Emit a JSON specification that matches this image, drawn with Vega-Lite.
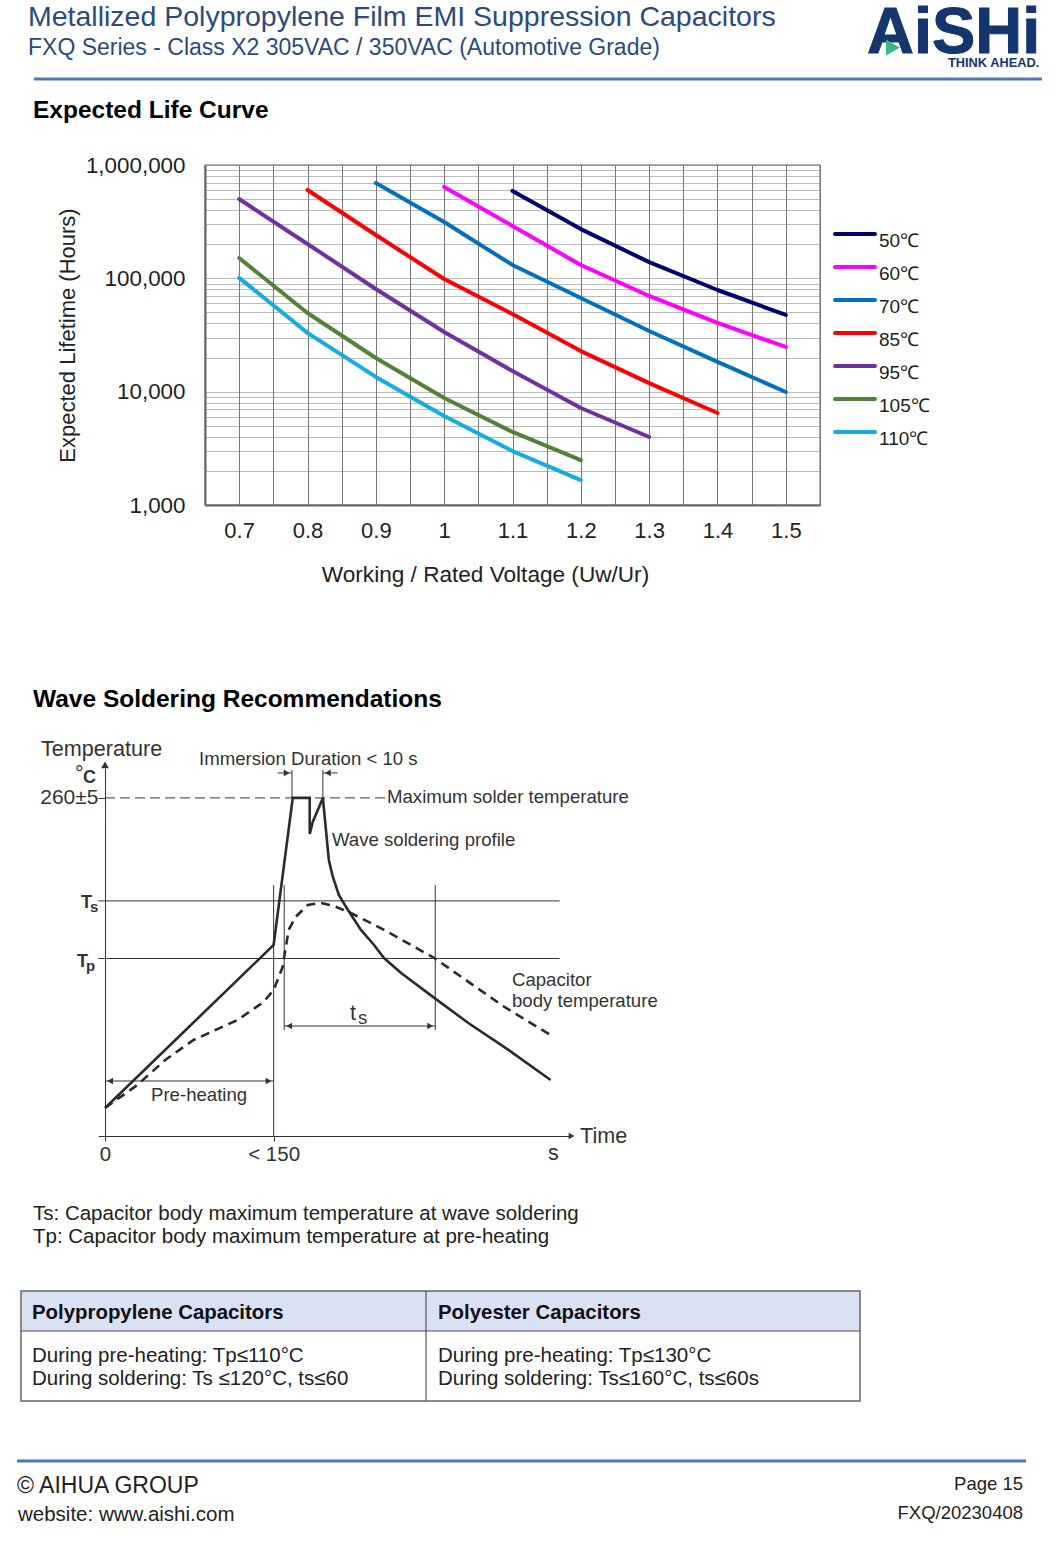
{
"$schema":"https://vega.github.io/schema/vega-lite/v6.json",
"width":615,"height":340,
"autosize":{"type":"none"},
"padding":{"left":205,"top":165,"right":240,"bottom":1058},
"background":"white",
"config":{"font":"Liberation Sans","view":{"stroke":"#999999","strokeWidth":1.5}},
"datasets":{
"life":[
{"v":1.1,"h":590000,"s":"50℃"},{"v":1.2,"h":272000,"s":"50℃"},{"v":1.3,"h":139000,"s":"50℃"},{"v":1.4,"h":78900,"s":"50℃"},{"v":1.5,"h":47500,"s":"50℃"},
{"v":1.0,"h":640000,"s":"60℃"},{"v":1.1,"h":290000,"s":"60℃"},{"v":1.2,"h":131000,"s":"60℃"},{"v":1.3,"h":69900,"s":"60℃"},{"v":1.4,"h":40400,"s":"60℃"},{"v":1.5,"h":24800,"s":"60℃"},
{"v":0.9,"h":694000,"s":"70℃"},{"v":1.0,"h":314000,"s":"70℃"},{"v":1.1,"h":131000,"s":"70℃"},{"v":1.2,"h":67100,"s":"70℃"},{"v":1.3,"h":34300,"s":"70℃"},{"v":1.4,"h":18300,"s":"70℃"},{"v":1.5,"h":9930,"s":"70℃"},
{"v":0.8,"h":602000,"s":"85℃"},{"v":0.9,"h":241000,"s":"85℃"},{"v":1.0,"h":98700,"s":"85℃"},{"v":1.1,"h":48500,"s":"85℃"},{"v":1.2,"h":22800,"s":"85℃"},{"v":1.3,"h":11900,"s":"85℃"},{"v":1.4,"h":6480,"s":"85℃"},
{"v":0.7,"h":501000,"s":"95℃"},{"v":0.8,"h":201000,"s":"95℃"},{"v":0.9,"h":80500,"s":"95℃"},{"v":1.0,"h":33600,"s":"95℃"},{"v":1.1,"h":15200,"s":"95℃"},{"v":1.2,"h":7180,"s":"95℃"},{"v":1.3,"h":3980,"s":"95℃"},
{"v":0.7,"h":151000,"s":"105℃"},{"v":0.8,"h":49400,"s":"105℃"},{"v":0.9,"h":19800,"s":"105℃"},{"v":1.0,"h":8790,"s":"105℃"},{"v":1.1,"h":4410,"s":"105℃"},{"v":1.2,"h":2490,"s":"105℃"},
{"v":0.7,"h":101000,"s":"110℃"},{"v":0.8,"h":33000,"s":"110℃"},{"v":0.9,"h":13500,"s":"110℃"},{"v":1.0,"h":6100,"s":"110℃"},{"v":1.1,"h":2990,"s":"110℃"},{"v":1.2,"h":1660,"s":"110℃"}
],
"profile":[
{"t":0,"temp":21.5},{"t":150,"temp":146.9},{"t":167,"temp":260},{"t":182.1,"temp":260},{"t":182.1,"temp":232.3},{"t":184.8,"temp":241.5},{"t":193.8,"temp":260},{"t":199.1,"temp":212.3},{"t":202.7,"temp":199.2},{"t":208,"temp":185.4},{"t":216.1,"temp":173.8},{"t":227.7,"temp":158.5},{"t":239.3,"temp":146.9},{"t":248.2,"temp":136.9},{"t":263.4,"temp":125.4},{"t":292.9,"temp":106.2},{"t":323.2,"temp":86.9},{"t":358.9,"temp":66.2},{"t":396.4,"temp":43.1}
],
"body":[
{"t":0,"temp":21.5},{"t":28.6,"temp":39.2},{"t":53.6,"temp":58.5},{"t":78.6,"temp":73.8},{"t":98.2,"temp":81.5},{"t":117.9,"temp":89.2},{"t":141.1,"temp":103.1},{"t":150,"temp":112.3},{"t":158,"temp":130},{"t":158.9,"temp":135.4},{"t":163.4,"temp":158.5},{"t":169.6,"temp":168.5},{"t":180.4,"temp":177.7},{"t":192,"temp":179.2},{"t":203.6,"temp":176.9},{"t":218.8,"temp":171.5},{"t":248.2,"temp":158.5},{"t":292.9,"temp":136.9},{"t":355.4,"temp":99.2},{"t":399.1,"temp":76.2}
],
"guides":[
{"t":-6,"t2":404.5,"temp":180.8,"temp2":180.8},
{"t":-6,"t2":404.5,"temp":136.5,"temp2":136.5},
{"t":150,"t2":150,"temp":0,"temp2":193},
{"t":159.4,"t2":159.4,"temp":81.5,"temp2":193},
{"t":293.8,"t2":293.8,"temp":81.5,"temp2":193},
{"t":166.3,"t2":166.3,"temp":260,"temp2":281.5},
{"t":193.8,"t2":193.8,"temp":260,"temp2":281.5},
{"t":159.4,"t2":293.8,"temp":84.6,"temp2":84.6},
{"t":0,"t2":150,"temp":42.3,"temp2":42.3},
{"t":153.6,"t2":166.3,"temp":279.2,"temp2":279.2},
{"t":193.8,"t2":207,"temp":279.2,"temp2":279.2}
],
"arrows":[
{"t":163.8,"temp":84.6,"dir":"left"},{"t":289.3,"temp":84.6,"dir":"right"},
{"t":4.5,"temp":42.3,"dir":"left"},{"t":145.5,"temp":42.3,"dir":"right"},
{"t":161.6,"temp":279.2,"dir":"right"},{"t":198.2,"temp":279.2,"dir":"left"},
{"t":415,"temp":0,"dir":"right"},{"t":0,"temp":285.4,"dir":"up"}
],
"notes":[
{"role":"h1","x":28,"y":26,"text":"Metallized Polypropylene Film EMI Suppression Capacitors"},
{"role":"h2","x":28,"y":55,"text":"FXQ Series - Class X2 305VAC / 350VAC (Automotive Grade)"},
{"role":"logo","x":867,"y":53,"text":"AiSHi"},
{"role":"think","x":948,"y":67,"text":"THINK AHEAD."},
{"role":"section","x":33,"y":118,"text":"Expected Life Curve"},
{"role":"section","x":33,"y":707,"text":"Wave Soldering Recommendations"},
{"role":"dia20","x":41,"y":756,"text":"Temperature"},
{"role":"dia20","x":75,"y":781,"text":"°"},
{"role":"diab","x":83,"y":783,"text":"C"},
{"role":"diab","x":81,"y":908,"text":"T"},
{"role":"diasub","x":90,"y":912,"text":"s"},
{"role":"diab","x":77,"y":967,"text":"T"},
{"role":"diasub","x":86,"y":971,"text":"p"},
{"role":"dia18","x":199,"y":765,"text":"Immersion Duration < 10 s"},
{"role":"dia18","x":387,"y":803,"text":"Maximum solder temperature"},
{"role":"dia18","x":332,"y":846,"text":"Wave soldering profile"},
{"role":"dia18","x":512,"y":986,"text":"Capacitor"},
{"role":"dia18","x":512,"y":1007,"text":"body temperature"},
{"role":"dia20","x":350,"y":1020,"text":"t"},
{"role":"dia18","x":358,"y":1024,"text":"s"},
{"role":"dia18","x":151,"y":1101,"text":"Pre-heating"},
{"role":"dia20","x":580,"y":1143,"text":"Time"},
{"role":"dia20","x":548,"y":1160,"text":"s"},
{"role":"para","x":33,"y":1220,"text":"Ts: Capacitor body maximum temperature at wave soldering"},
{"role":"para","x":33,"y":1243,"text":"Tp: Capacitor body maximum temperature at pre-heating"},
{"role":"head","x":32,"y":1319,"text":"Polypropylene Capacitors"},
{"role":"head","x":438,"y":1319,"text":"Polyester Capacitors"},
{"role":"para","x":32,"y":1362,"text":"During pre-heating: Tp≤110°C"},
{"role":"para","x":32,"y":1385,"text":"During soldering: Ts ≤120°C, ts≤60"},
{"role":"para","x":438,"y":1362,"text":"During pre-heating: Tp≤130°C"},
{"role":"para","x":438,"y":1385,"text":"During soldering: Ts≤160°C, ts≤60s"},
{"role":"group","x":17,"y":1493,"text":"© AIHUA GROUP"},
{"role":"site","x":18,"y":1521,"text":"website: www.aishi.com"},
{"role":"foot","x":1023,"y":1490,"text":"Page 15"},
{"role":"foot","x":1023,"y":1519,"text":"FXQ/20230408"}
],
"frames":[
{"role":"blue","x":34,"x2":1042,"y":79,"y2":79},
{"role":"blue","x":17,"x2":1026,"y":1461,"y2":1461},
{"role":"line","x":426,"x2":426,"y":1291,"y2":1401},
{"role":"line","x":21,"x2":860,"y":1331,"y2":1331},
{"role":"fill","x":21,"x2":860,"y":1291,"y2":1331},
{"role":"box","x":21,"x2":860,"y":1291,"y2":1401}
],
"logoMark":[{"x":893,"y":47.5}]
},
"resolve":{"scale":{"x":"independent","y":"independent"},"axis":{"x":"independent","y":"independent"}},
"layer":[
{
"data":{"name":"life"},
"mark":{"type":"line","strokeWidth":4,"strokeCap":"round","strokeJoin":"round"},
"encoding":{
"x":{"field":"v","type":"quantitative","scale":{"domain":[0.65,1.55],"nice":false,"zero":false},
"axis":{"orient":"bottom","title":"Working / Rated Voltage (Uw/Ur)","titleFontSize":22.6,"titleFontWeight":"normal","titleColor":"#222222","titlePadding":22,"titleX":280,
"values":[0.65,0.7,0.75,0.8,0.85,0.9,0.95,1,1.05,1.1,1.15,1.2,1.25,1.3,1.35,1.4,1.45,1.5,1.55],
"labelExpr":"abs(datum.value*10-round(datum.value*10))<0.001 ? format(datum.value,'.2~g') : ''",
"labelFontSize":22,"labelColor":"#222222","labelPadding":15,"labelOverlap":false,"labelFlush":false,"ticks":false,
"grid":true,"gridColor":"#777777","gridWidth":1,"domainColor":"#666666","domainWidth":2}},
"y":{"field":"h","type":"quantitative","scale":{"type":"log","domain":[1000,1000000],"nice":false},
"axis":{"orient":"left","title":"Expected Lifetime (Hours)","titleFontSize":22,"titleFontWeight":"normal","titleColor":"#222222","titlePadding":6,
"values":[1000,2000,3000,4000,5000,6000,7000,8000,9000,10000,20000,30000,40000,50000,60000,70000,80000,90000,100000,200000,300000,400000,500000,600000,700000,800000,900000,1000000],
"labelExpr":"(datum.value==1000||datum.value==10000||datum.value==100000||datum.value==1000000) ? format(datum.value,',') : ''",
"labelFontSize":22.4,"labelColor":"#222222","labelPadding":20,"labelOverlap":false,"labelFlush":false,"ticks":false,
"grid":true,"gridColor":"#777777","gridWidth":1.2,"gridDash":[1,1],"domainColor":"#666666","domainWidth":2}},
"color":{"field":"s","type":"nominal","scale":{"domain":["50℃","60℃","70℃","85℃","95℃","105℃","110℃"],"range":["#000070","#FF00FF","#0070C0","#FF0000","#7030A0","#548235","#13ACE3"]},
"legend":{"orient":"none","legendX":628,"legendY":53.5,"title":null,"symbolType":"stroke","symbolSize":1600,"symbolStrokeWidth":4,"clipHeight":31,"rowPadding":0,"padding":0,"labelFontSize":19,"labelColor":"#222222","labelOffset":2,"labelBaseline":"top","encode":{"labels":{"update":{"dy":{"value":-2}}},"symbols":{"update":{"strokeCap":{"value":"round"}}}}}},
"order":{"field":"v","type":"quantitative"}
}
},
{
"encoding":{
"x":{"field":"t","type":"quantitative","scale":{"domain":[-6,415],"range":[-106.7,366.5],"nice":false,"zero":false},
"axis":{"orient":"bottom","offset":631,"title":null,"values":[0,150],"labelExpr":"datum.value==0?'0':'< 150'","labelFontSize":20.5,"labelColor":"#333333","labelPadding":3,"labelOverlap":false,"labelFlush":false,"tickSize":5,"tickColor":"#333333","domainColor":"#333333","domainWidth":1,"grid":false}},
"y":{"field":"temp","type":"quantitative","scale":{"domain":[0,283],"range":[971,603],"nice":false,"zero":false},
"axis":{"orient":"left","offset":100,"title":null,"values":[260],"labelExpr":"'260±5'","labelFontSize":21,"labelColor":"#333333","labelPadding":0,"labelOverlap":false,"labelFlush":false,"tickSize":7,"tickColor":"#333333","domainColor":"#333333","domainWidth":1,"grid":false}}
},
"layer":[
{"data":{"name":"guides"},"mark":{"type":"rule","color":"#333333","strokeWidth":1},"encoding":{"x2":{"field":"t2"},"y2":{"field":"temp2"}}},
{"data":{"values":[{"t":0,"t2":250,"temp":260,"temp2":260}]},"mark":{"type":"rule","color":"#333333","strokeWidth":1,"strokeDash":[10,5]},"encoding":{"x2":{"field":"t2"},"y2":{"field":"temp2"}}},
{"data":{"name":"profile"},"mark":{"type":"line","color":"#2A2A2A","strokeWidth":2.6}},
{"data":{"name":"body"},"mark":{"type":"line","color":"#2A2A2A","strokeWidth":2.6,"strokeDash":[9,6]}},
{"data":{"name":"arrows"},"transform":[{"filter":"datum.dir=='left'"}],"mark":{"type":"point","shape":"triangle-left","filled":true,"size":45,"color":"#333333","opacity":1}},
{"data":{"name":"arrows"},"transform":[{"filter":"datum.dir=='right'"}],"mark":{"type":"point","shape":"triangle-right","filled":true,"size":45,"color":"#333333","opacity":1}},
{"data":{"name":"arrows"},"transform":[{"filter":"datum.dir=='up'"}],"mark":{"type":"point","shape":"triangle-up","filled":true,"size":60,"color":"#333333","opacity":1}}
]
},
{
"encoding":{
"x":{"field":"x","type":"quantitative","scale":{"domain":[0,1060],"range":[-205,855],"nice":false,"zero":false},"axis":null},
"y":{"field":"y","type":"quantitative","scale":{"domain":[0,1563],"range":[-165,1398],"nice":false,"zero":false},"axis":null}
},
"layer":[
{"data":{"name":"frames"},"transform":[{"filter":"datum.role=='fill'"}],"mark":{"type":"rect","fill":"#D9E2F3"},"encoding":{"x2":{"field":"x2"},"y2":{"field":"y2"}}},
{"data":{"name":"frames"},"transform":[{"filter":"datum.role=='box'"}],"mark":{"type":"rect","fill":null,"stroke":"#666666","strokeWidth":1.5},"encoding":{"x2":{"field":"x2"},"y2":{"field":"y2"}}},
{"data":{"name":"frames"},"transform":[{"filter":"datum.role=='line'"}],"mark":{"type":"rule","color":"#555555","strokeWidth":1.2},"encoding":{"x2":{"field":"x2"},"y2":{"field":"y2"}}},
{"data":{"name":"frames"},"transform":[{"filter":"datum.role=='blue'"}],"mark":{"type":"rule","color":"#4F76B8","strokeWidth":3},"encoding":{"x2":{"field":"x2"},"y2":{"field":"y2"}}},
{"data":{"name":"notes"},"transform":[{"filter":"datum.role=='h1'"}],"mark":{"type":"text","align":"left","baseline":"alphabetic","fontSize":28.5,"color":"#2C4A7C"},"encoding":{"text":{"field":"text"}}},
{"data":{"name":"notes"},"transform":[{"filter":"datum.role=='h2'"}],"mark":{"type":"text","align":"left","baseline":"alphabetic","fontSize":23,"color":"#2C4A7C"},"encoding":{"text":{"field":"text"}}},
{"data":{"name":"notes"},"transform":[{"filter":"datum.role=='logo'"}],"mark":{"type":"text","align":"left","baseline":"alphabetic","fontSize":65,"fontWeight":"bold","color":"#14366F","stroke":"#14366F","strokeWidth":1},"encoding":{"text":{"field":"text"}}},
{"data":{"name":"logoMark"},"mark":{"type":"point","shape":"triangle-right","filled":true,"size":260,"color":"#3EB489","opacity":1}},
{"data":{"name":"notes"},"transform":[{"filter":"datum.role=='think'"}],"mark":{"type":"text","align":"left","baseline":"alphabetic","fontSize":12.8,"fontWeight":"bold","color":"#14366F"},"encoding":{"text":{"field":"text"}}},
{"data":{"name":"notes"},"transform":[{"filter":"datum.role=='section'"}],"mark":{"type":"text","align":"left","baseline":"alphabetic","fontSize":24.5,"fontWeight":"bold","color":"#000000"},"encoding":{"text":{"field":"text"}}},
{"data":{"name":"notes"},"transform":[{"filter":"datum.role=='dia20'"}],"mark":{"type":"text","align":"left","baseline":"alphabetic","fontSize":21.6,"color":"#333333"},"encoding":{"text":{"field":"text"}}},
{"data":{"name":"notes"},"transform":[{"filter":"datum.role=='dia18'"}],"mark":{"type":"text","align":"left","baseline":"alphabetic","fontSize":18.6,"color":"#333333"},"encoding":{"text":{"field":"text"}}},
{"data":{"name":"notes"},"transform":[{"filter":"datum.role=='diab'"}],"mark":{"type":"text","align":"left","baseline":"alphabetic","fontSize":18,"fontWeight":"bold","color":"#333333"},"encoding":{"text":{"field":"text"}}},
{"data":{"name":"notes"},"transform":[{"filter":"datum.role=='diasub'"}],"mark":{"type":"text","align":"left","baseline":"alphabetic","fontSize":15,"fontWeight":"bold","color":"#333333"},"encoding":{"text":{"field":"text"}}},
{"data":{"name":"notes"},"transform":[{"filter":"datum.role=='para'"}],"mark":{"type":"text","align":"left","baseline":"alphabetic","fontSize":20.5,"color":"#222222"},"encoding":{"text":{"field":"text"}}},
{"data":{"name":"notes"},"transform":[{"filter":"datum.role=='head'"}],"mark":{"type":"text","align":"left","baseline":"alphabetic","fontSize":20.4,"fontWeight":"bold","color":"#111111"},"encoding":{"text":{"field":"text"}}},
{"data":{"name":"notes"},"transform":[{"filter":"datum.role=='group'"}],"mark":{"type":"text","align":"left","baseline":"alphabetic","fontSize":23,"color":"#222222"},"encoding":{"text":{"field":"text"}}},
{"data":{"name":"notes"},"transform":[{"filter":"datum.role=='site'"}],"mark":{"type":"text","align":"left","baseline":"alphabetic","fontSize":20.5,"color":"#222222"},"encoding":{"text":{"field":"text"}}},
{"data":{"name":"notes"},"transform":[{"filter":"datum.role=='foot'"}],"mark":{"type":"text","align":"right","baseline":"alphabetic","fontSize":18.5,"color":"#222222"},"encoding":{"text":{"field":"text"}}}
]
}
]
}
